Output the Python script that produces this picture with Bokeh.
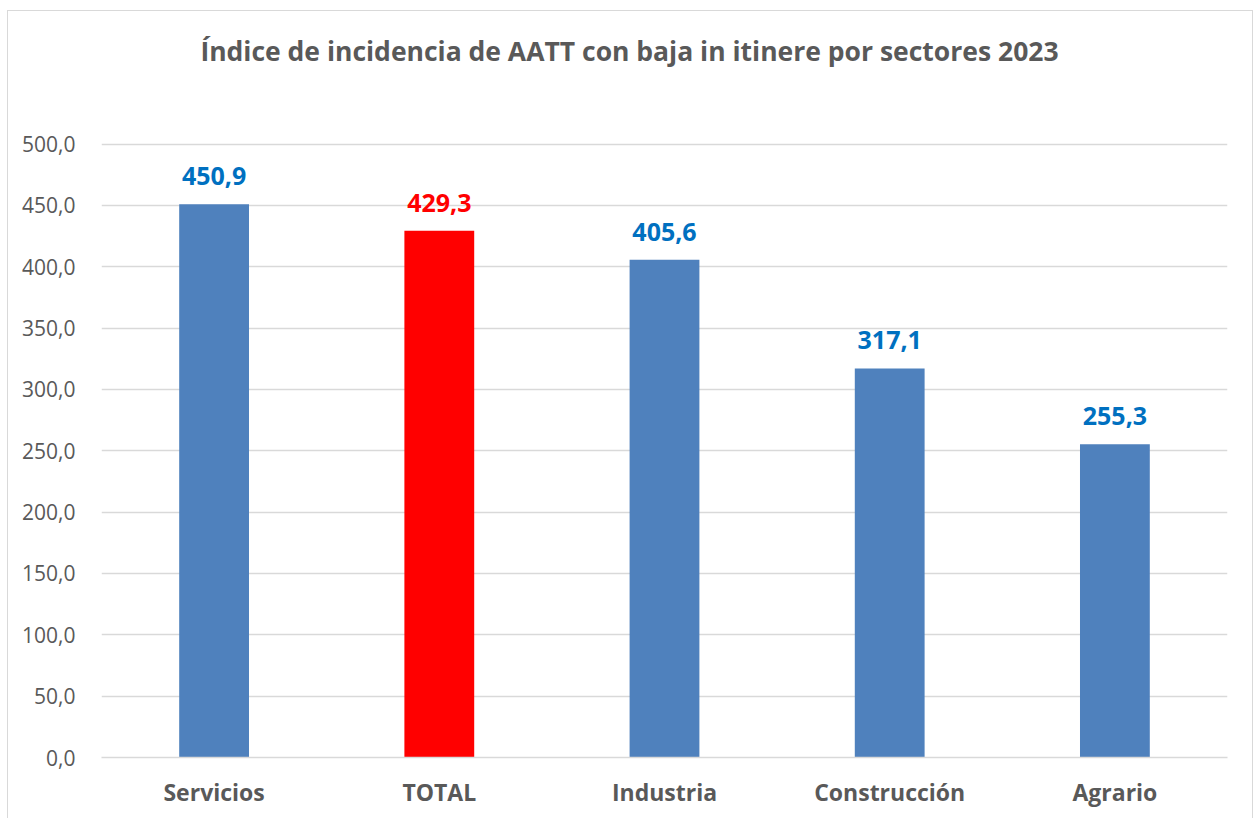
from bokeh.plotting import figure
from bokeh.models import ColumnDataSource, Range1d, FactorRange, FixedTicker, Label, CustomJSTickFormatter
from bokeh.core.properties import value
from bokeh.embed import file_html
from bokeh.resources import INLINE

categories = ["Servicios", "TOTAL", "Industria", "Construcción", "Agrario"]
values = [450.9, 429.3, 405.6, 317.1, 255.3]
bar_colors = ["#4F81BD", "#FF0000", "#4F81BD", "#4F81BD", "#4F81BD"]
label_colors = ["#0070C0", "#FF0000", "#0070C0", "#0070C0", "#0070C0"]
y_ticks = [0, 50, 100, 150, 200, 250, 300, 350, 400, 450, 500]
title_text = "Índice de incidencia de AATT con baja in itinere por sectores 2023"

labels = [("%.1f" % v).replace(".", ",") for v in values]
src = ColumnDataSource(dict(cat=categories, val=values, bc=bar_colors, lc=label_colors, lab=labels))

FONT = "Open Sans"
GRAY = "#595959"

# the plot frame reaches the top of the chart so that the title can sit in it;
# grid lines and ticks stop at 500
p = figure(x_range=FactorRange(*categories, range_padding=0), y_range=Range1d(0, 608),
           width=1246, height=808, output_backend="svg", toolbar_location=None,
           min_border_left=93, min_border_right=27, min_border_top=0, min_border_bottom=62,
           styles={"border": "1px solid #d9d9d9", "border-bottom": "none",
                   "margin-left": "7px", "margin-top": "10px", "box-sizing": "border-box"})

# title centred on the whole chart (not on the plot area)
title = Label(x=2.5, y=576, x_offset=-35, text=title_text, text_align="center",
              text_baseline="middle", text_font=FONT, text_font_size="26.5px",
              text_font_style="bold", text_color=GRAY)
p.add_layout(title)

p.vbar(x="cat", top="val", width=0.31, source=src, fill_color="bc", line_color=None)
p.text(x="cat", y="val", text="lab", source=src, text_color="lc", text_font=value(FONT),
       text_font_size="25px", text_font_style="bold", text_align="center",
       text_baseline="alphabetic", y_offset=-28)

p.outline_line_color = None
p.xgrid.grid_line_color = None
p.ygrid.grid_line_color = "#D9D9D9"
p.ygrid.grid_line_width = 1.3
p.yaxis.ticker = FixedTicker(ticks=y_ticks)
p.yaxis.formatter = CustomJSTickFormatter(code="return tick.toFixed(1).replace('.', ',');")
p.yaxis.axis_line_color = None
p.yaxis.major_tick_line_color = None
p.yaxis.minor_tick_line_color = None
p.yaxis.major_label_text_font = FONT
p.yaxis.major_label_text_font_size = "21px"
p.yaxis.major_label_text_color = GRAY
p.yaxis.major_label_standoff = 20

p.xaxis.axis_line_color = "#D9D9D9"
p.xaxis.axis_line_width = 1.3
p.xaxis.major_tick_line_color = None
p.xaxis.minor_tick_line_color = None
p.xaxis.major_label_text_font = FONT
p.xaxis.major_label_text_font_size = "23px"
p.xaxis.major_label_text_font_style = "bold"
p.xaxis.major_label_text_color = GRAY
p.xaxis.major_label_standoff = 12

open("out.html", "w").write(file_html(p, INLINE))
